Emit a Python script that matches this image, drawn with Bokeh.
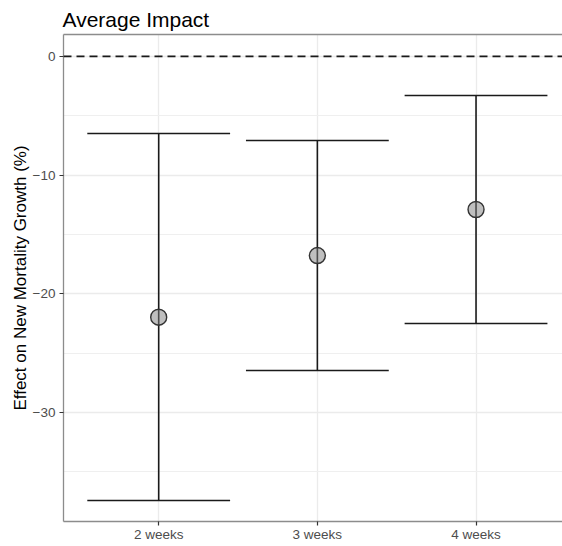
from bokeh.plotting import figure
from bokeh.models import Range1d, FixedTicker, LinearAxis, Span, ColumnDataSource
from bokeh.embed import file_html
from bokeh.resources import INLINE

# ---- data ----
categories = ["2 weeks", "3 weeks", "4 weeks"]
estimate = [-21.96, -16.77, -12.89]
lower = [-37.4, -26.45, -22.49]
upper = [-6.49, -7.08, -3.29]
y_ticks = [0, -10, -20, -30]
y_minor_ticks = [-35, -25, -15, -5]

FONT = "Liberation Sans"
BORDER = "#8c8c8c"
GRID = "#ebebeb"
TICKLAB = "#4d4d4d"
BAR_HALF = 0.45

xs = [i + 1 for i in range(len(categories))]
src = ColumnDataSource(dict(
    x=xs, est=estimate, lo=lower, hi=upper,
    xl=[x - BAR_HALF for x in xs], xr=[x + BAR_HALF for x in xs],
))

p = figure(width=562, height=546, output_backend="svg", toolbar_location=None,
           x_range=Range1d(0.4, 3.545), y_range=Range1d(-39.17, 1.85),
           min_border_left=63, min_border_right=0, min_border_top=34, min_border_bottom=25,
           background_fill_color="white", border_fill_color="white")
p.outline_line_color = None

# title
p.title.text = "Average Impact"
p.title.text_font = FONT
p.title.text_font_size = "21px"
p.title.text_font_style = "normal"
p.title.text_color = "black"
p.title.align = "left"
p.title.vertical_align = "top"
p.title.standoff = 4
p.title.offset = -1

# axes
xa = p.xaxis[0]
xa.ticker = FixedTicker(ticks=xs)
xa.major_label_overrides = {x: c for x, c in zip(xs, categories)}
xa.axis_label = None
xa.axis_label_standoff = 0
ya = p.yaxis[0]
ya.ticker = FixedTicker(ticks=y_ticks, minor_ticks=y_minor_ticks)
ya.axis_label = "Effect on New Mortality Growth (%)"
ya.axis_label_text_font = FONT
ya.axis_label_text_font_size = "17px"
ya.axis_label_text_font_style = "normal"
ya.axis_label_text_color = "black"
ya.axis_label_standoff = 0

for ax in (xa, ya):
    ax.axis_line_color = BORDER
    ax.axis_line_width = 1.3
    ax.major_tick_line_color = "#333333"
    ax.major_tick_line_width = 1.2
    ax.major_tick_out = 4
    ax.major_tick_in = 0
    ax.minor_tick_line_color = None
    ax.minor_tick_out = 0
    ax.minor_tick_in = 0
    ax.major_label_text_font = FONT
    ax.major_label_text_font_size = "13.5px"
    ax.major_label_text_color = TICKLAB
    ax.major_label_standoff = 4
xa.major_label_standoff = 1

top_ax = LinearAxis(ticker=FixedTicker(ticks=[]), axis_line_color=BORDER, axis_line_width=1.3,
                    major_tick_line_color=None, minor_tick_line_color=None,
                    major_tick_out=0, major_tick_in=0, minor_tick_out=0, minor_tick_in=0,
                    major_label_standoff=0, major_label_text_font_size="0px",
                    axis_label_standoff=0)
p.add_layout(top_ax, "above")

# grid
p.xgrid.grid_line_color = GRID
p.xgrid.grid_line_width = 1.3
p.ygrid.grid_line_color = GRID
p.ygrid.grid_line_width = 1.3
p.ygrid.minor_grid_line_color = "#efefef"
p.ygrid.minor_grid_line_width = 1.0

# reference line at 0
p.add_layout(Span(location=0, dimension="width", line_color="#1a1a1a",
                  line_width=1.8, line_dash="8 5"))

# error bars
p.segment(x0="x", y0="lo", x1="x", y1="hi", source=src, line_color="#1a1a1a", line_width=1.6)
p.segment(x0="xl", y0="hi", x1="xr", y1="hi", source=src, line_color="#1a1a1a", line_width=1.6)
p.segment(x0="xl", y0="lo", x1="xr", y1="lo", source=src, line_color="#1a1a1a", line_width=1.6)

# points
p.scatter(x="x", y="est", source=src, size=16, marker="circle",
          fill_color="#808080", fill_alpha=0.5, line_color="#333333", line_width=1.4)

open("out.html", "w").write(file_html(p, INLINE))
